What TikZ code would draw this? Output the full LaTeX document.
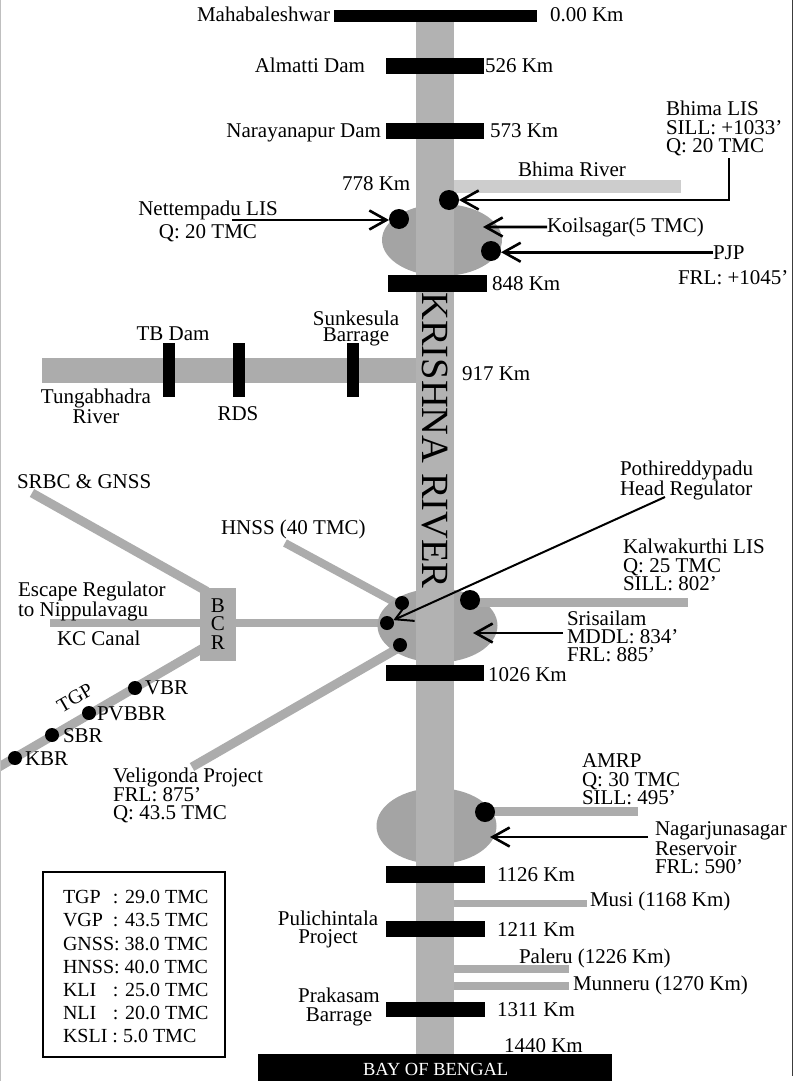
\documentclass[tikz,border=0pt]{standalone}
\usepackage{fontspec}
\setmainfont{Liberation Serif}
\usetikzlibrary{arrows.meta,shapes.geometric}
\definecolor{riverc}{RGB}{178,178,178}
\definecolor{lakec}{RGB}{164,164,164}
\definecolor{canalc}{RGB}{172,172,172}
\definecolor{bhimac}{RGB}{205,205,205}
\definecolor{edgec}{RGB}{60,60,60}
\pgfdeclarelayer{bg}
\pgfdeclarelayer{lakes}
\pgfdeclarelayer{riverlayer}
\pgfsetlayers{bg,lakes,riverlayer,main}
\begin{document}
\begin{tikzpicture}[x=1pt,y=-1pt,
  every node/.style={inner sep=0pt,outer sep=0pt,font=\fontsize{21}{18.5}\selectfont},
  bar/.style={fill=black},
  band/.style={draw=canalc,line width=#1},
  band/.default=8pt,
  bigdot/.style={circle,fill=black,minimum size=20pt},
  smalldot/.style={circle,fill=black,minimum size=14pt},
  lake/.style={ellipse,fill=lakec,minimum width=120pt},
  arr/.style={line width=2.6pt,-{Straight Barb[length=17pt,width=19pt]}},
  thinarr/.style={line width=2pt,-{Straight Barb[length=17pt,width=19pt]}},
  lbl/.style={anchor=base west},
  lbr/.style={anchor=base east},
  blk/.style={anchor=north west,align=left},
  cblk/.style={anchor=north,align=center},
  fs/.style={font=\fontsize{21}{#1}\selectfont},
]
\useasboundingbox (0,0) rectangle (794,1081);

% ---------- lakes and river ----------
\begin{pgfonlayer}{lakes}
\node[lake,minimum height=72pt] (lakeK) at (442,240) {};
\node[lake,minimum height=74pt] (lakeS) at (437.5,625.5) {};
\node[lake,minimum height=76pt] (lakeN) at (436.5,826) {};
\end{pgfonlayer}
\begin{pgfonlayer}{riverlayer}
\fill[riverc] (416,20) rectangle (454,1055);
\end{pgfonlayer}

% ---------- BCR box ----------
\node[fill=canalc,minimum width=36pt,minimum height=73pt,align=center,fs=18.75] (bcr) at (218,624) {B\\C\\R};

% ---------- coordinates ----------
\coordinate (srbcS) at (32,493);
\coordinate (tgpW) at (-20,778);
\coordinate (tgpE) at (210,644);
\coordinate (kcW) at (50,623);
\coordinate (hnssS) at (285,543);
\coordinate (veliS) at (192,767);

% ---------- background bands ----------
\begin{pgfonlayer}{bg}
\fill[white] (0,0) rectangle (794,1081);
\fill[canalc] (42,358) rectangle (420,383);
\fill[bhimac] (440,180) rectangle (681,193);
\fill[canalc] (440,900) rectangle (587,907);
\fill[canalc] (440,965) rectangle (569,973);
\fill[canalc] (440,982) rectangle (569,990);
\draw[band=9pt,shorten >=-8pt] (srbcS) -- (bcr.north west);
\begin{scope}
\clip (0,0) rectangle (794,1081);
\draw[band=9pt] (tgpW) -- (tgpE);
\end{scope}
\draw[band=8pt] (kcW) -- (kcW -| lakeS.center);
\draw[band=8pt] (hnssS) -- (lakeS.center);
\draw[band=9pt] (veliS) -- (lakeS.center);
\end{pgfonlayer}

% ---------- bands over lakes ----------
\fill[canalc] (470,598) rectangle (688,607);
\fill[canalc] (485,807) rectangle (638,816);

% ---------- dams / bars ----------
\fill[bar] (334,10) rectangle (537,22);
\fill[bar] (386,58) rectangle (484,74);
\fill[bar] (386,123) rectangle (484,139);
\fill[bar] (388,275) rectangle (487,292);
\fill[bar] (386,665) rectangle (484,681);
\fill[bar] (386,866) rectangle (485,883);
\fill[bar] (386,921) rectangle (485,937);
\fill[bar] (386,1002) rectangle (485,1017);
\fill[bar] (163,343) rectangle (175,397);
\fill[bar] (233,343) rectangle (245,397);
\fill[bar] (347,343) rectangle (359,397);
\node[fill=black,minimum width=354pt,minimum height=27pt,anchor=north west] (bay) at (258,1054) {};

% ---------- dots ----------
\node[bigdot] (dotB) at (449,200) {};
\node[bigdot] (dotN) at (399,219) {};
\node[bigdot] (dotP) at (491,251) {};
\node[smalldot] (dotH) at (402,603) {};
\node[smalldot] (dotM) at (387,623) {};
\node[smalldot] (dotV) at (400,645) {};
\node[bigdot] (dotK) at (470,600) {};
\node[bigdot] (dotA) at (485,812) {};
\node[smalldot] (dVBR) at (135,688) {};
\node[smalldot] (dPVBBR) at (89,713) {};
\node[smalldot] (dSBR) at (52,735) {};
\node[smalldot] (dKBR) at (15,758) {};

% ---------- texts ----------
\node[lbr] (maha) at (330,22) {Mahabaleshwar};
\node[lbl] (km0) at (550,22) {0.00 Km};
\node[lbr] (almatti) at (365,72.7) {Almatti Dam};
\node[lbl] (km526) at (485,72.7) {526 Km};
\node[lbr] (naray) at (381,137.5) {Narayanapur Dam};
\node[lbl] (km573) at (490,137.5) {573 Km};
\node[blk,fs=18.8] (bhimalis) at (666,100.7) {Bhima LIS\\SILL: +1033'\\Q: 20 TMC};
\node[lbl] (bhimariv) at (518,176.5) {Bhima River};
\node[lbl] (km778) at (342,190) {778 Km};
\node[cblk,fs=23.3] (nett) at (208,200.7) {Nettempadu LIS\\Q: 20 TMC};
\node[lbl] (koil) at (547,232) {Koilsagar(5 TMC)};
\node[lbl] (pjp) at (713,259) {PJP};
\node[lbl] (pjpfrl) at (678,284) {FRL: +1045'};
\node[lbl] (km848) at (492,290.7) {848 Km};
\node[cblk,fs=16.3] (sunk) at (356,310.5) {Sunkesula\\Barrage};
\node[anchor=base] (tbdam) at (173,340.5) {TB Dam};
\node[cblk,fs=18.3] (tunga) at (96,389) {Tungabhadra\\River};
\node[anchor=base] (rds) at (238,420.7) {RDS};
\node[lbl] (km917) at (462,380) {917 Km};
\node[rotate=-90,font=\fontsize{38.5}{40}\selectfont] (krishna) at (435,440.5) {KRISHNA RIVER};
\node[blk,fs=17.7] (poth) at (620,460.7) {Pothireddypadu\\Head Regulator};
\node[lbl] (srbc) at (17,488.3) {SRBC \& GNSS};
\node[lbl] (hnss) at (221,534) {HNSS (40 TMC)};
\node[blk,fs=18.7] (kalwa) at (623,539) {Kalwakurthi LIS\\Q: 25 TMC\\SILL: 802'};
\node[blk,fs=18.3] (escape) at (18,581.7) {Escape Regulator\\to Nippulavagu};
\node[lbl] (kc) at (57,645) {KC Canal};
\node[blk,fs=18.3] (sris) at (567,610.7) {Srisailam\\MDDL: 834'\\FRL: 885'};
\node[lbl] (km1026) at (488,681.7) {1026 Km};
\node[lbl] (tVBR) at (145,694.3) {VBR};
\node[lbl] (tPVBBR) at (97,720) {PVBBR};
\node[lbl] (tSBR) at (63,742.7) {SBR};
\node[lbl] (tKBR) at (25,765) {KBR};
\node[rotate=30,font=\fontsize{20}{20}\selectfont] (tgp) at (75,698) {TGP};
\node[blk,fs=18.5] (veli) at (113,768.3) {Veligonda Project\\FRL: 875'\\Q: 43.5 TMC};
\node[blk,fs=18.3] (amrp) at (582,754) {AMRP\\Q: 30 TMC\\SILL: 495'};
\node[blk,fs=17.8] (nagar) at (655,822) {Nagarjunasagar\\Reservoir\\FRL: 590'};
\node[lbl] (km1126) at (497,881.7) {1126 Km};
\node[lbl] (musi) at (590,906.7) {Musi (1168 Km)};
\node[cblk,fs=17.5] (puli) at (328,911) {Pulichintala\\Project};
\node[lbl] (km1211) at (497,936.7) {1211 Km};
\node[lbl] (paleru) at (519,963.3) {Paleru (1226 Km)};
\node[lbl] (munneru) at (573,990.7) {Munneru (1270 Km)};
\node[cblk,fs=19] (praka) at (339,988) {Prakasam\\Barrage};
\node[lbl] (km1311) at (497,1016.7) {1311 Km};
\node[lbl] (km1440) at (504,1052.7) {1440 Km};
\node[lbl,text=white,font=\fontsize{18.5}{18.5}\selectfont] (baytxt) at (363,1075) {BAY OF BENGAL};

% ---------- legend ----------
\node[draw=black,line width=1.4pt,minimum width=182pt,minimum height=185pt] (legbox) at (134,964.5) {};
\node[anchor=north west,align=left,font=\fontsize{20}{23.1}\selectfont] (legend) at (63,890.5) {%
\makebox[50pt][l]{TGP}: 29.0 TMC\\
\makebox[50pt][l]{VGP}: 43.5 TMC\\
GNSS: 38.0 TMC\\
HNSS: 40.0 TMC\\
\makebox[50pt][l]{KLI}: 25.0 TMC\\
\makebox[50pt][l]{NLI}: 20.0 TMC\\
KSLI : 5.0 TMC};

% ---------- arrows ----------
\coordinate (bhimaTop) at (729,158);
\draw[arr] (bhimaTop) |- (dotB);
\coordinate (nettS) at (232,220);
\draw[arr] (nettS) -- (nettS -| dotN.west);
\coordinate (koilT) at (483,227);
\draw[arr] (koil.west) -- (koilT);
\draw[arr] (pjp.west) -- (pjp.west -| dotP.east);
\coordinate (pothS) at (665,497);
\draw[thinarr] (pothS) -- (dotM);
\coordinate (srisS) at (563,633);
\coordinate (srisT) at (473,633);
\draw[arr] (srisS) -- (srisT);
\coordinate (nagS) at (648,837);
\coordinate (nagT) at (490,837);
\draw[arr] (nagS) -- (nagT);

% ---------- frame edges ----------
\draw[gray!50,line width=1pt] (0.5,0) -- (0.5,1081);
\draw[edgec,line width=1.5pt] (792.5,0) -- (792.5,1076);
\end{tikzpicture}
\end{document}
